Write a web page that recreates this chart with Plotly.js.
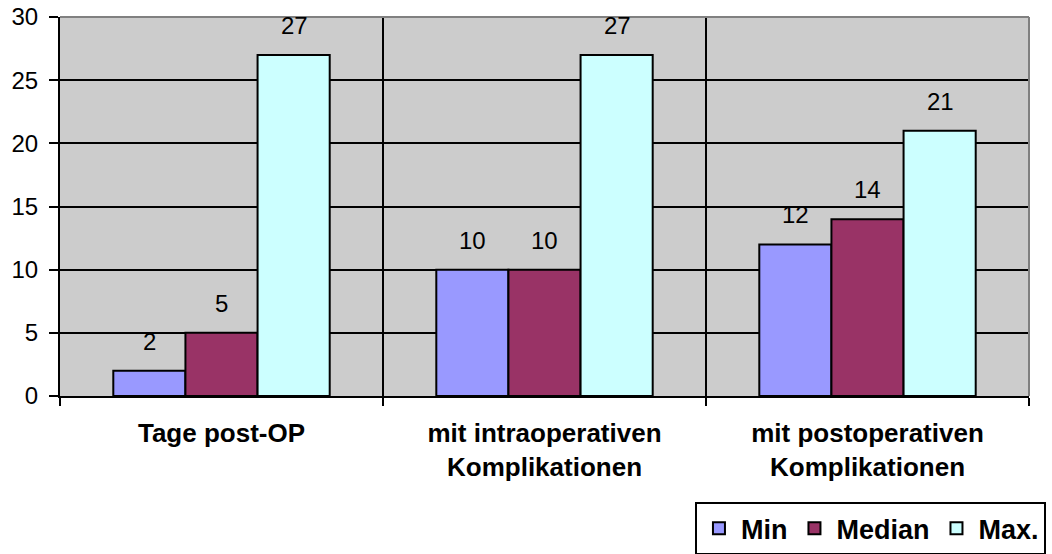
<!DOCTYPE html>
<html>
<head>
<meta charset="utf-8">
<script src="https://cdn.plot.ly/plotly-3.0.1.min.js"></script>
<style>html,body{margin:0;padding:0;background:#fff;}#chart{width:1052px;height:554px;}</style>
</head>
<body>
<div id="chart"></div>
<script>
const categories = ["Tage post-OP", "mit intraoperativen<br>Komplikationen", "mit postoperativen<br>Komplikationen"];
const seriesNames = ["Min", "Median", "Max."];
const minValues = [2, 10, 12];
const medianValues = [5, 10, 14];
const maxValues = [27, 27, 21];
const colors = ["#9999FF", "#993366", "#CCFFFF"];
const yTicks = [0, 5, 10, 15, 20, 25, 30];

const font = "Arial, 'Liberation Sans', sans-serif";
const allValues = [minValues, medianValues, maxValues];
const barPx = 72.5; // pixel width of one bar, used to offset value labels
const traces = allValues.map((vals, i) => ({
  type: "bar",
  name: seriesNames[i],
  x: categories,
  y: vals,
  marker: {color: colors[i], line: {color: "#000", width: 2}}
}));

const annotations = [];
allValues.forEach((vals, i) => {
  vals.forEach((v, j) => {
    annotations.push({
      x: categories[j], y: v, xref: "x", yref: "y",
      text: String(v), showarrow: false,
      xanchor: "center", yanchor: "bottom",
      xshift: (i - 1) * barPx, yshift: 14,
      font: {family: font, size: 24, color: "#000"}
    });
  });
});

const layout = {
  width: 1052, height: 554,
  margin: {l: 60, r: 23, t: 17, b: 158, autoexpand: false},
  paper_bgcolor: "#fff",
  plot_bgcolor: "#cccccc",
  barmode: "group",
  bargap: 0.33,
  bargroupgap: 0,
  font: {family: font, color: "#000"},
  showlegend: true,
  annotations: annotations,
  xaxis: {
    type: "category",
    tickson: "boundaries",
    ticks: "outside", ticklen: 8, tickwidth: 2, tickcolor: "#000",
    showgrid: true, gridcolor: "#000", gridwidth: 2,
    showline: true, linecolor: "#000", linewidth: 2,
    tickfont: {family: font, size: 26, color: "#000", weight: "bold"},
    ticklabelstandoff: 13,
    zeroline: false
  },
  yaxis: {
    range: [0, 30],
    tickvals: yTicks,
    ticks: "outside", ticklen: 9, tickwidth: 2, tickcolor: "#000",
    showgrid: true, gridcolor: "#000", gridwidth: 2,
    showline: true, linecolor: "#000", linewidth: 2,
    tickfont: {family: font, size: 24, color: "#000"},
    ticklabelstandoff: 6,
    zeroline: false
  },
  shapes: [
    {type: "line", xref: "paper", yref: "paper", x0: 0, x1: 1, y0: 1, y1: 1, line: {color: "#808080", width: 2}},
    {type: "line", xref: "paper", yref: "paper", x0: 1, x1: 1, y0: 0, y1: 1, line: {color: "#808080", width: 2}}
  ],
  legend: {
    orientation: "h",
    x: 1.0175, xanchor: "right",
    y: -0.28, yanchor: "top",
    bordercolor: "#000", borderwidth: 2,
    bgcolor: "#fff",
    font: {family: font, size: 27, color: "#000", weight: "bold"},
    itemwidth: 34,
    traceorder: "normal"
  }
};

Plotly.newPlot("chart", traces, layout, {displayModeBar: false, staticPlot: true});
</script>
</body>
</html>
